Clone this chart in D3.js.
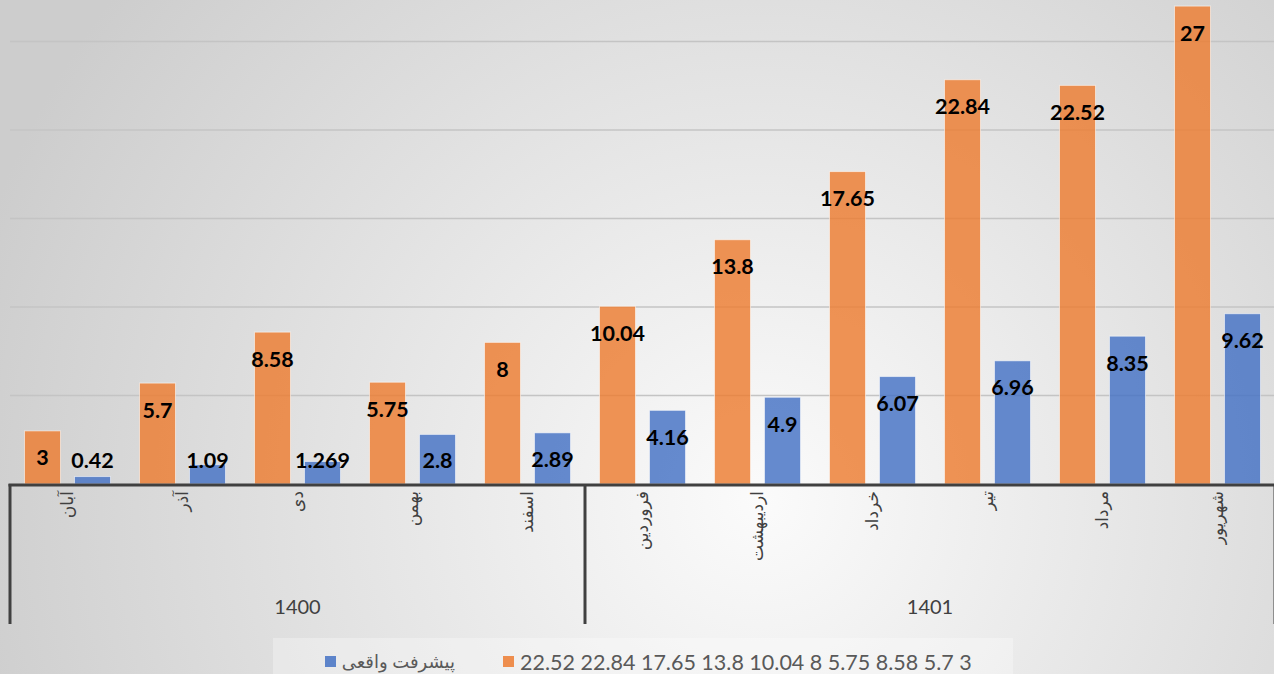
<!DOCTYPE html>
<html>
<head>
<meta charset="utf-8">
<script src="https://cdn.jsdelivr.net/npm/d3@7"></script>
<style>
  html, body { margin: 0; padding: 0; overflow: hidden; background: #fff; }
  svg { display: block; }
</style>
</head>
<body>
<div id="chart"></div>
<script>
const months = ["آبان", "آذر", "دی", "بهمن", "اسفند", "فروردین", "اردیبهشت", "خرداد", "تیر", "مرداد", "شهریور"];
const years = ["1400", "1400", "1400", "1400", "1400", "1401", "1401", "1401", "1401", "1401", "1401"];
const planned = [3, 5.7, 8.58, 5.75, 8, 10.04, 13.8, 17.65, 22.84, 22.52, 27];
const actual = [0.42, 1.09, 1.269, 2.8, 2.89, 4.16, 4.9, 6.07, 6.96, 8.35, 9.62];
const yTicks = [5, 10, 15, 20, 25];
const seriesNames = ["22.52 22.84 17.65 13.8 10.04 8 5.75 8.58 5.7 3", "پیشرفت واقعی"];

const W = 1274, H = 674;
const colors = ["#ED7D31", "#4472C4"];

const svg = d3.select("#chart").append("svg")
    .attr("width", W)
    .attr("height", H);

// background gradient
const defs = svg.append("defs");
const grad = defs.append("radialGradient")
    .attr("id", "bg")
    .attr("gradientUnits", "userSpaceOnUse")
    .attr("cx", 760).attr("cy", 500).attr("r", 820);
grad.append("stop").attr("offset", "0%").attr("stop-color", "#fbfbfb");
grad.append("stop").attr("offset", "100%").attr("stop-color", "#cdcdcd");
svg.append("rect").attr("width", W).attr("height", H).attr("fill", "url(#bg)");

const plotLeft = 10, plotRight = 1275, baseY = 484;

const x = d3.scaleBand()
    .domain(d3.range(months.length))
    .range([plotLeft, plotRight])
    .paddingInner(0)
    .paddingOuter(0);

const xInner = d3.scaleBand()
    .domain([0, 1])
    .range([0, x.bandwidth()])
    .paddingInner(0.28)
    .paddingOuter(0.29);

const y = d3.scaleLinear()
    .domain([0, 30])
    .range([baseY, baseY - 531]);

// gridlines
svg.append("g")
    .selectAll("line")
    .data(yTicks)
    .join("line")
    .attr("x1", plotLeft)
    .attr("x2", W)
    .attr("y1", d => y(d))
    .attr("y2", d => y(d))
    .attr("stroke", "#c4c4c4")
    .attr("stroke-width", 1.5);

// bars
const series = [planned, actual];
series.forEach((vals, s) => {
    svg.append("g")
        .selectAll("rect")
        .data(vals)
        .join("rect")
        .attr("x", (d, i) => x(i) + xInner(s))
        .attr("y", d => y(d))
        .attr("width", xInner.bandwidth())
        .attr("height", d => baseY - y(d))
        .attr("fill", colors[s])
        .attr("fill-opacity", 0.82)
        .attr("stroke", "rgba(255,255,255,0.55)")
        .attr("stroke-width", 1);

    svg.append("g")
        .selectAll("text")
        .data(vals)
        .join("text")
        .attr("x", (d, i) => x(i) + xInner(s) + xInner.bandwidth() / 2)
        .attr("y", d => Math.min(y(d) + 27, 460))
        .attr("dy", "0.35em")
        .attr("text-anchor", "middle")
        .style("font-family", "Lato, 'Open Sans', sans-serif")
        .style("font-weight", "bold")
        .style("font-size", "21.5px")
        .attr("fill", "#000")
        .text(d => d);
});

// axis line and separators
svg.append("line")
    .attr("x1", plotLeft - 1.5).attr("x2", W)
    .attr("y1", baseY + 1).attr("y2", baseY + 1)
    .attr("stroke", "#404040").attr("stroke-width", 3);

const groups = d3.groups(years.map((yr, i) => ({ yr, i })), d => d.yr);
const seps = [plotLeft, x(groups[1][1][0].i), plotRight];
svg.append("g")
    .selectAll("line")
    .data(seps)
    .join("line")
    .attr("x1", d => d).attr("x2", d => d)
    .attr("y1", baseY).attr("y2", 624)
    .attr("stroke", "#404040").attr("stroke-width", 3);

// month labels (rotated)
svg.append("g")
    .selectAll("text")
    .data(months)
    .join("text")
    .attr("transform", (d, i) => `translate(${x(i) + x.bandwidth() / 2},${baseY + 7}) rotate(-90)`)
    .attr("direction", "rtl")
    .attr("text-anchor", "start")
    .attr("dy", "0.35em")
    .style("font-family", "'DejaVu Sans', sans-serif")
    .style("font-size", "17px")
    .attr("fill", "#404040")
    .text(d => d);

// year labels
svg.append("g")
    .selectAll("text")
    .data(groups)
    .join("text")
    .attr("x", g => {
        const first = g[1][0].i, last = g[1][g[1].length - 1].i;
        return (x(first) + x(last) + x.bandwidth()) / 2;
    })
    .attr("y", 607)
    .attr("dy", "0.35em")
    .attr("text-anchor", "middle")
    .style("font-family", "Lato, sans-serif")
    .style("font-size", "20px")
    .attr("fill", "#404040")
    .text(g => g[0]);

// legend
const legend = svg.append("g");
legend.append("rect")
    .attr("x", 273).attr("y", 638)
    .attr("width", 740).attr("height", 40)
    .attr("fill", "#ffffff").attr("fill-opacity", 0.3);

const legendItems = [
    { name: seriesNames[1], color: colors[1], sx: 325, tx: 455, dir: "rtl", size: 18 },
    { name: seriesNames[0], color: colors[0], sx: 503, tx: 520, dir: "ltr", size: 21.5 }
];
legendItems.forEach(it => {
    legend.append("rect")
        .attr("x", it.sx).attr("y", 656)
        .attr("width", 11).attr("height", 11)
        .attr("fill", it.color).attr("fill-opacity", 0.85);
    legend.append("text")
        .attr("x", it.tx).attr("y", 662)
        .attr("dy", "0.35em")
        .attr("direction", it.dir)
        .attr("text-anchor", "start")
        .style("font-family", "Lato, 'DejaVu Sans', sans-serif")
        .style("font-size", it.size + "px")
        .attr("fill", "#595959")
        .text(it.name);
});
</script>
</body>
</html>
